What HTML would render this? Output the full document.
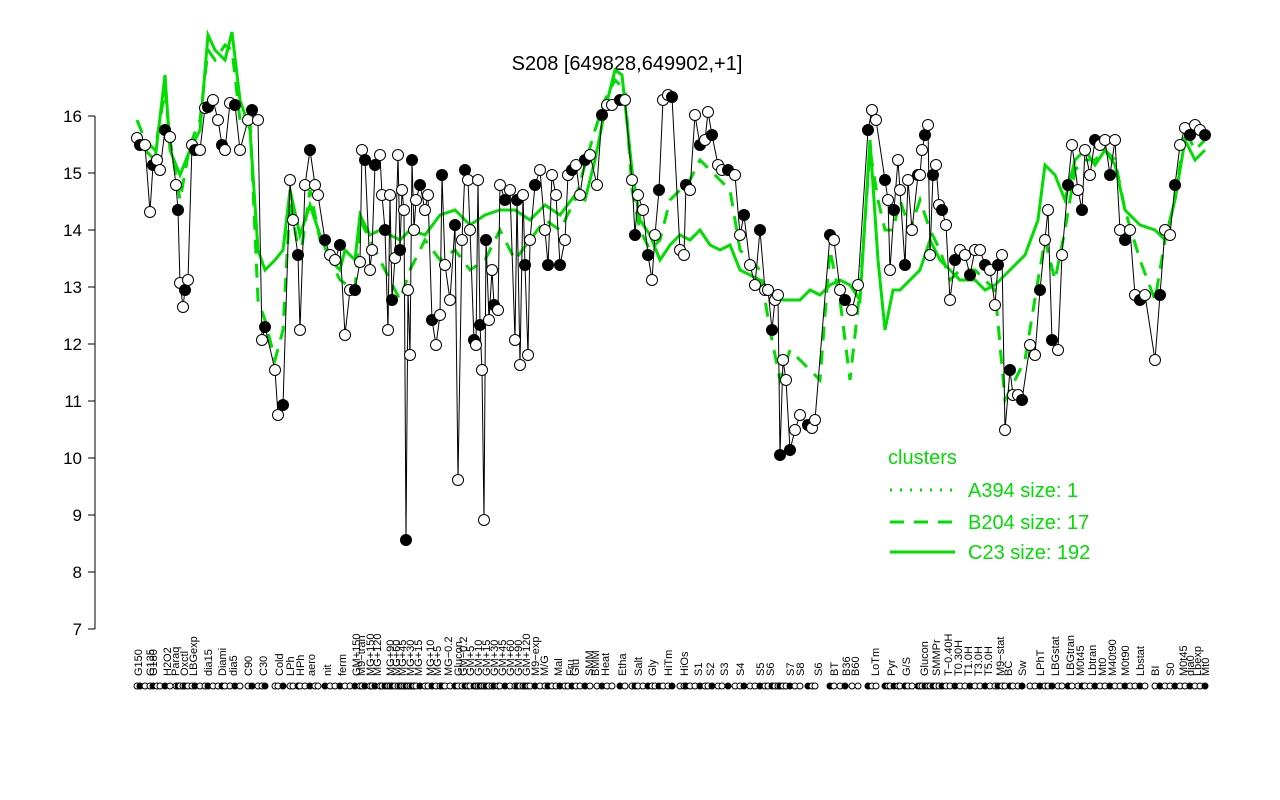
<!DOCTYPE html>
<html><head><meta charset="utf-8"><style>
body{margin:0;background:#fff}
svg{display:block;font-family:"Liberation Sans",Arial,sans-serif}
</style></head><body>
<svg id="s" width="1280" height="800" viewBox="0 0 1280 800">
<rect width="1280" height="800" fill="#fff"/>
<text x="627" y="70" font-size="20" text-anchor="middle">S208 [649828,649902,+1]</text>
<g stroke="#000" stroke-width="1">
<line x1="95" y1="116" x2="95" y2="629"/>
<line x1="88" y1="629" x2="95" y2="629"/><line x1="88" y1="572" x2="95" y2="572"/>
<line x1="88" y1="515" x2="95" y2="515"/><line x1="88" y1="458" x2="95" y2="458"/>
<line x1="88" y1="401" x2="95" y2="401"/><line x1="88" y1="344" x2="95" y2="344"/>
<line x1="88" y1="287" x2="95" y2="287"/><line x1="88" y1="230" x2="95" y2="230"/>
<line x1="88" y1="173" x2="95" y2="173"/><line x1="88" y1="116" x2="95" y2="116"/>
</g>
<g font-size="17" text-anchor="end">
<text x="82" y="635">7</text><text x="82" y="578">8</text><text x="82" y="521">9</text>
<text x="82" y="464">10</text><text x="82" y="407">11</text><text x="82" y="350">12</text>
<text x="82" y="293">13</text><text x="82" y="236">14</text><text x="82" y="179">15</text>
<text x="82" y="122">16</text>
</g>
<g id="g"></g>
<text x="888" y="464" font-size="20" fill="#00dd00">clusters</text>
<line x1="890" y1="490" x2="955" y2="490" stroke="#00dd00" stroke-width="3" stroke-dasharray="2,8"/>
<line x1="890" y1="522" x2="955" y2="522" stroke="#00dd00" stroke-width="3" stroke-dasharray="14,10"/>
<line x1="890" y1="552" x2="955" y2="552" stroke="#00dd00" stroke-width="3"/>
<text x="968" y="497" font-size="20" fill="#00dd00">A394 size: 1</text>
<text x="968" y="529" font-size="20" fill="#00dd00">B204 size: 17</text>
<text x="968" y="559" font-size="20" fill="#00dd00">C23 size: 192</text>
</svg>
<script>
var B="137,138 140,145 145,145 150,212 153,165 157,160 160,170 165,130 170,137 176,185 178,210 180,283 183,307 185,290 188,280 192,145 195,150 200,150 205,108 208,107 213,100 218,120 222,145 225,150 230,103 235,105 240,150 248,120 252,110 258,120 262,340 265,327 275,370 278,415 283,405 290,180 293,220 298,255 300,330 305,185 310,150 315,185 318,195 325,240 330,255 335,260 340,245 345,335 350,290 355,290 360,262 362,150 365,160 370,270 372,250 375,165 380,155 382,195 385,230 388,330 390,195 392,300 395,258 398,155 400,250 402,190 404,210 406,540 408,290 410,355 412,160 414,230 416,200 420,185 425,210 428,195 432,320 436,345 440,315 442,175 445,265 450,300 455,225 458,480 462,240 465,170 468,180 470,230 474,340 476,345 478,180 480,325 482,370 484,520 486,240 489,320 492,270 494,305 498,310 500,185 505,200 510,190 515,340 517,200 520,365 523,195 525,265 528,355 530,240 535,185 540,170 545,230 548,265 552,175 556,195 560,265 565,240 568,175 572,170 576,165 580,195 585,160 590,155 597,185 602,115 607,105 612,105 620,100 625,100 632,180 635,235 638,195 643,210 648,255 652,280 655,235 659,190 663,100 668,95 672,97 680,250 684,255 686,185 690,190 695,115 700,145 705,140 708,112 712,135 718,165 722,170 728,170 735,175 740,235 744,215 750,265 755,285 760,230 765,290 768,290 772,330 775,300 778,295 780,455 783,360 786,380 790,450 795,430 800,415 808,425 812,428 815,420 830,235 834,240 840,290 845,300 852,310 858,285 868,130 872,110 876,120 885,180 888,200 890,270 894,210 898,160 900,190 905,265 908,180 912,230 918,175 920,175 922,150 925,135 928,125 930,255 933,175 936,165 939,205 942,210 946,225 950,300 955,260 960,250 965,255 970,275 975,250 980,250 985,265 990,270 995,305 998,265 1002,255 1005,430 1010,370 1013,395 1018,395 1022,400 1030,345 1035,355 1040,290 1045,240 1048,210 1052,340 1058,350 1062,255 1068,185 1072,145 1078,190 1082,210 1085,150 1090,175 1095,140 1100,145 1105,140 1110,175 1115,140 1120,230 1125,240 1130,230 1135,295 1140,300 1145,295 1155,360 1160,295 1165,230 1170,235 1175,185 1180,145 1185,128 1190,135 1195,125 1200,130 1205,135";
var G="137,135 145,150 155,160 165,75 170,150 180,175 190,150 200,130 208,35 215,50 225,60 232,32 240,100 250,130 258,250 265,270 275,260 283,250 290,190 300,235 310,205 320,235 330,260 340,270 345,250 355,260 360,215 370,235 380,230 400,240 410,230 425,235 440,215 455,210 470,225 485,215 500,210 515,210 530,220 545,205 560,215 575,195 585,200 595,160 605,110 615,70 622,75 632,170 640,220 650,235 660,260 670,245 680,235 690,240 700,230 710,245 720,250 730,245 740,270 750,275 760,280 770,290 780,300 790,300 800,300 810,290 820,295 830,285 840,280 850,285 860,300 870,140 878,260 885,330 893,290 900,290 910,280 920,270 930,240 940,260 950,270 960,280 975,280 985,290 995,285 1010,270 1025,255 1038,220 1045,165 1055,175 1065,200 1075,160 1085,150 1095,165 1105,150 1115,165 1125,210 1140,225 1155,230 1165,240 1175,200 1185,140 1195,160 1205,150";
var D="137,120 145,140 155,150 165,90 170,140 180,200 190,145 200,120 208,50 215,60 225,45 232,50 240,120 250,120 258,300 265,320 275,360 283,330 290,200 300,260 310,190 320,240 330,260 340,280 355,290 360,220 380,260 400,300 410,270 425,240 440,260 455,250 470,270 485,260 500,230 515,260 530,240 545,220 560,230 575,200 595,130 605,100 615,80 625,90 632,190 640,230 650,250 660,240 670,200 680,190 690,180 700,160 710,170 720,180 730,190 740,250 750,260 760,270 770,330 780,380 790,350 800,360 810,370 820,380 830,250 840,300 850,380 860,290 870,150 878,200 885,230 893,230 900,200 910,230 920,200 930,230 940,250 950,280 960,270 975,270 985,280 995,290 1005,400 1015,380 1025,360 1038,280 1045,240 1055,280 1065,230 1075,170 1085,160 1095,160 1105,150 1115,160 1125,210 1140,260 1155,300 1165,240 1175,200 1185,130 1195,150 1205,140";
function pl(s,st,dash){return '<polyline fill="none" stroke="'+st+'" stroke-width="'+(st=="#000"?1:3)+'"'+(dash?' stroke-dasharray="'+dash+'"':'')+' points="'+s+'"/>';}
var h=pl(D,"#00dd00","14,10")+pl(G,"#00dd00")+pl(B,"#000");
var pts=B.split(" ");
pts.forEach(function(p,i){var a=p.split(",");h+='<circle cx="'+a[0]+'" cy="'+a[1]+'" r="5.5" stroke="#000" stroke-width="1" fill="'+(i%3==1?"#000":"#fff")+'"/>';});
pts.forEach(function(p,i){var a=p.split(",");h+='<circle cx="'+a[0]+'" cy="686" r="3" stroke="#000" stroke-width="1" fill="'+(i%3==1?"#000":"#fff")+'"/>';});
var L=[[138,"G150"],[150,"G135"],[153,"G180"],[167,"H2O2"],[175,"Paraq"],[184,"Oxctl"],[193,"LBGexp"],[208,"dia15"],[222,"Diami"],[233,"dia5"],[248,"C90"],[263,"C30"],[279,"Cold"],[290,"LPh"],[300,"HPh"],[311,"aero"],[327,"nit"],[342,"ferm"],[356,"GM+150"],[361,"M9−tran"],[370,"MG+150"],[377,"MG+120"],[390,"MG+90"],[396,"MG+60"],[402,"MG+45"],[410,"MG+30"],[418,"MG+15"],[430,"MG+10"],[437,"MG+5"],[448,"MG−0.2"],[458,"Glucon"],[463,"GM−0.2"],[470,"GM+5"],[478,"GM+10"],[486,"GM+15"],[494,"GM+30"],[502,"GM+45"],[510,"GM+60"],[518,"GM+90"],[526,"GM+120"],[535,"M9−exp"],[544,"M/G"],[558,"Mal"],[570,"Fru"],[575,"Glu"],[589,"SMM"],[595,"BMM"],[605,"Heat"],[622,"Etha"],[638,"Salt"],[652,"Gly"],[668,"HiTm"],[684,"HiOs"],[698,"S1"],[710,"S2"],[724,"S3"],[740,"S4"],[760,"S5"],[770,"S6"],[790,"S7"],[800,"S8"],[818,"S6"],[834,"BT"],[846,"B36"],[855,"B60"],[875,"LoTm"],[891,"Pyr"],[906,"G/S"],[924,"Glucon"],[936,"SMMPr"],[948,"T−0.40H"],[958,"T0.30H"],[968,"T1.0H"],[978,"T3.0H"],[988,"T5.0H"],[1000,"M9−stat"],[1008,"BC"],[1022,"Sw"],[1040,"LPhT"],[1055,"LBGstat"],[1070,"LBGtran"],[1080,"M0t45"],[1092,"Lbtran"],[1102,"Mt0"],[1112,"M40t90"],[1125,"M0t90"],[1140,"Lbstat"],[1155,"BI"],[1170,"S0"],[1183,"M0t45"],[1190,"dia0"],[1197,"Lbexp"],[1205,"Mt0"]];
L.forEach(function(l){h+='<text transform="translate('+(l[0]+4)+',676) rotate(-90)" font-size="11">'+l[1]+'</text>';});
document.getElementById("g").innerHTML=h;
</script>
</body></html>
